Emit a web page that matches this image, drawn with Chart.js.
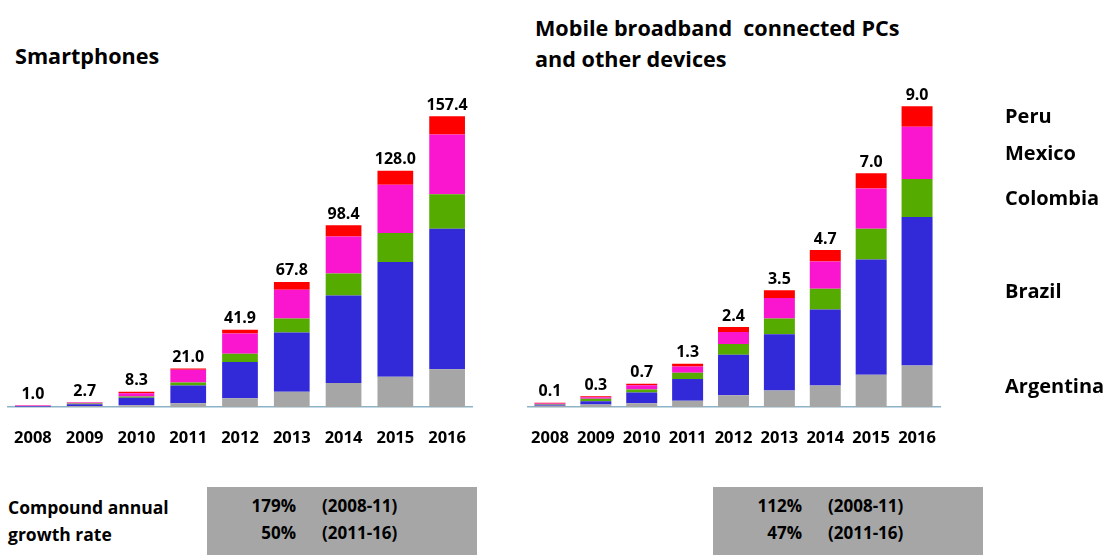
<!DOCTYPE html>
<html>
<head>
<meta charset="utf-8">
<script src="https://cdn.jsdelivr.net/npm/chart.js@4/dist/chart.umd.min.js"></script>
<style>
  body { margin: 0; width: 1110px; height: 555px; background: #fff; position: relative; overflow: hidden;
         font-family: "Open Sans", sans-serif; font-weight: bold; color: #000; }
  canvas { position: absolute; }
  .title { position: absolute; font-size: 21.6px; line-height: 31px; white-space: pre; }
  .cagr { position: absolute; font-size: 17.5px; line-height: 27px; }
  .box { position: absolute; top: 487px; width: 270px; height: 68px; background: #a6a6a6; }
  .box .pct { position: absolute; right: 181px; text-align: right; font-size: 17px; }
  .box .per { position: absolute; left: 115px; font-size: 17px; }
</style>
</head>
<body>

<div class="title" style="left:15px; top:40px;">Smartphones</div>
<div class="title" style="left:535px; top:12px;">Mobile broadband  connected PCs
and other devices</div>

<canvas id="phones" width="466" height="368" style="left:7px; top:80px;"></canvas>
<canvas id="pcs" width="583" height="368" style="left:527px; top:80px;"></canvas>

<div class="cagr" style="left:8px; top:494px;">Compound annual<br>growth rate</div>
<div class="box" style="left:207px;">
  <div class="pct" style="top:7px;">179%</div><div class="per" style="top:7px;">(2008-11)</div>
  <div class="pct" style="top:34px;">50%</div><div class="per" style="top:34px;">(2011-16)</div>
</div>
<div class="box" style="left:713px;">
  <div class="pct" style="top:7px;">112%</div><div class="per" style="top:7px;">(2008-11)</div>
  <div class="pct" style="top:34px;">47%</div><div class="per" style="top:34px;">(2011-16)</div>
</div>

<script>
// values (millions)
const years = ["2008", "2009", "2010", "2011", "2012", "2013", "2014", "2015", "2016"];
const countries = ["Argentina", "Brazil", "Colombia", "Mexico", "Peru"];
const colors = ["#a6a6a6", "#3229d8", "#55ab00", "#fa16ce", "#ff0000"];

// Smartphones
const phoneArgentina = [0.2, 0.6, 1.0, 2.1, 4.9, 8.3, 13.1, 16.5, 20.5];
const phoneBrazil    = [0.4, 1.0, 4.1, 9.6, 19.5, 32.1, 47.3, 62.0, 76.1];
const phoneColombia  = [0.1, 0.4, 0.7, 1.7, 4.5, 7.6, 12.0, 15.8, 18.6];
const phoneMexico    = [0.2, 0.5, 1.7, 6.9, 11.0, 15.6, 19.9, 26.1, 32.4];
const phonePeru      = [0.1, 0.2, 0.8, 0.7, 2.0, 4.2, 6.1, 7.6, 9.8];
const phoneTotals = ["1.0", "2.7", "8.3", "21.0", "41.9", "67.8", "98.4", "128.0", "157.4"];

// Mobile broadband connected PCs and other devices
const pcArgentina = [0.04, 0.08, 0.12, 0.19, 0.36, 0.50, 0.65, 0.97, 1.25];
const pcBrazil    = [0.03, 0.10, 0.32, 0.65, 1.21, 1.68, 2.27, 3.45, 4.44];
const pcColombia  = [0.02, 0.07, 0.09, 0.19, 0.32, 0.47, 0.62, 0.92, 1.14];
const pcMexico    = [0.02, 0.05, 0.13, 0.19, 0.36, 0.62, 0.82, 1.20, 1.56];
const pcPeru      = [0.02, 0.03, 0.04, 0.08, 0.15, 0.23, 0.34, 0.46, 0.61];
const pcTotals = ["0.1", "0.3", "0.7", "1.3", "2.4", "3.5", "4.7", "7.0", "9.0"];

const FONT = '"Open Sans", sans-serif';

// totals above the bars + country names next to the last bar
const labelPlugin = {
    id: "labels",
    afterDatasetsDraw(chart, args, opts) {
        const ctx = chart.ctx;
        const n = chart.data.datasets.length;
        const topMeta = chart.getDatasetMeta(n - 1);
        ctx.save();
        ctx.fillStyle = "#000";
        ctx.font = "bold 16px " + FONT;
        ctx.textAlign = "center";
        ctx.textBaseline = "bottom";
        topMeta.data.forEach((bar, i) => {
            ctx.fillText(opts.totals[i], bar.x, bar.y - 3);
        });
        if (opts.countryNames) {
            ctx.font = "bold 20px " + FONT;
            ctx.textAlign = "left";
            ctx.textBaseline = "middle";
            for (let d = 0; d < n; d++) {
                const meta = chart.getDatasetMeta(d);
                const bar = meta.data[meta.data.length - 1];
                ctx.fillText(chart.data.datasets[d].label, chart.chartArea.right + 65, (bar.y + bar.base) / 2 + 1);
            }
        }
        ctx.restore();
    }
};

function makeChart(id, series, totals, yMax, barPct, countryNames) {
    const datasets = series.map((vals, i) => ({
        label: countries[i],
        data: vals,
        backgroundColor: colors[i],
        borderWidth: 0,
        categoryPercentage: 1,
        barPercentage: barPct
    }));
    return new Chart(document.getElementById(id), {
        type: "bar",
        data: { labels: years, datasets: datasets },
        options: {
            responsive: false,
            animation: false,
            layout: { padding: { top: 13, right: countryNames ? 170 : 0 } },
            plugins: {
                legend: { display: false },
                tooltip: { enabled: false },
                labels: { totals: totals, countryNames: countryNames }
            },
            scales: {
                x: {
                    stacked: true,
                    // gap under the axis comes from an invisible tick mark, so the
                    // scale does not add side padding for the labels
                    grid: { display: false, drawTicks: true, tickLength: 21 },
                    border: { display: true, color: "#8db4c6", width: 1.5 },
                    ticks: { color: "#000", font: { family: FONT, size: 16.5, weight: "bold" }, padding: 0 }
                },
                y: { stacked: true, display: false, min: 0, max: yMax }
            }
        },
        plugins: [labelPlugin]
    });
}

makeChart("phones", [phoneArgentina, phoneBrazil, phoneColombia, phoneMexico, phonePeru], phoneTotals, 170, 0.69, false);
makeChart("pcs", [pcArgentina, pcBrazil, pcColombia, pcMexico, pcPeru], pcTotals, 9.4, 0.675, true);
</script>
</body>
</html>
